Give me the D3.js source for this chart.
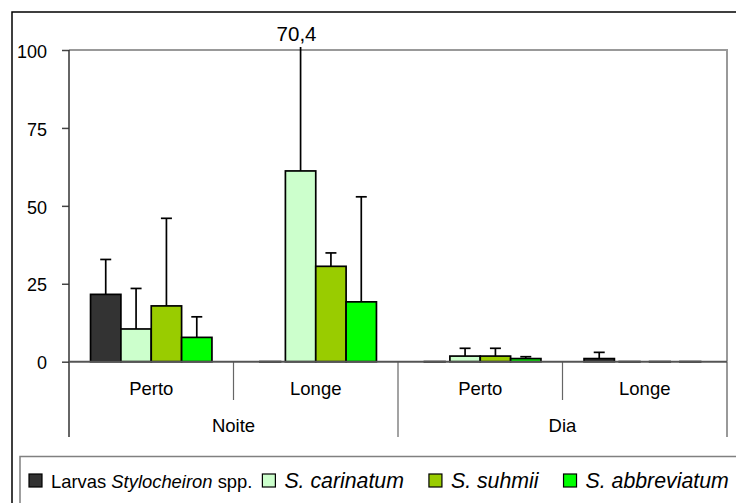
<!DOCTYPE html>
<html>
<head>
<meta charset="utf-8">
<script src="https://cdn.jsdelivr.net/npm/d3@7"></script>
<style>
  body { margin: 0; background: #fff; }
  svg text { font-family: "Liberation Sans", Arial, sans-serif; fill: #000; }
</style>
</head>
<body>
<svg id="chart" width="736" height="503"></svg>
<script>
// data
var periods = ["Noite", "Dia"];
var distances = ["Perto", "Longe"];
var seriesNames = ["Larvas", "S. carinatum", "S. suhmii", "S. abbreviatum"];
var seriesColors = ["#333333", "#ccffcc", "#99cc00", "#00ff00"];
// one value per group: Noite-Perto, Noite-Longe, Dia-Perto, Dia-Longe
var larvasMean = [21.6, 0, 0, 1.0];
var carinatumMean = [10.5, 61.2, 1.8, 0];
var suhmiiMean = [17.9, 30.6, 1.8, 0];
var abbreviatumMean = [7.8, 19.2, 1.0, 0];
var larvasSd = [11.2, 0, 0, 2.0];
var carinatumSd = [13.0, 70.4, 2.5, 0];
var suhmiiSd = [28.1, 4.3, 2.5, 0];
var abbreviatumSd = [6.6, 33.7, 0.6, 0];
var yTicks = [0, 25, 50, 75, 100];

var means = [larvasMean, carinatumMean, suhmiiMean, abbreviatumMean];
var sds = [larvasSd, carinatumSd, suhmiiSd, abbreviatumSd];

var groups = [];
periods.forEach(function(p){
	distances.forEach(function(d){
		groups.push({period: p, dist: d, key: p + "-" + d});
	});
});

var bars = [];
groups.forEach(function(g, gi){
	seriesNames.forEach(function(s, si){
		bars.push({group: g.key, series: s, color: seriesColors[si], value: means[si][gi], sd: sds[si][gi]});
	});
});

var svg = d3.select("#chart");
var plotLeft = 69, plotRight = 727, plotTop = 50, base = 361.7;

var y = d3.scaleLinear().domain([0, 100]).range([base, plotTop]);
var x0 = d3.scaleBand().domain(groups.map(function(g){ return g.key; })).range([plotLeft, plotRight]);
var x1 = d3.scaleBand().domain(seriesNames).range([0, x0.bandwidth()]).paddingInner(0).paddingOuter(0.71);
var xp = d3.scaleBand().domain(periods).range([plotLeft, plotRight]);

// outer frame (cut off on right/bottom like the original)
svg.append("rect")
  .attr("x", 12).attr("y", 12).attr("width", 760).attr("height", 520)
  .style("fill", "none").style("stroke", "#000").style("stroke-width", 1.5);

// plot area border (top and right)
svg.append("path")
  .attr("d", "M" + plotLeft + "," + plotTop + "H" + plotRight + "V" + base)
  .style("fill", "none").style("stroke", "#999").style("stroke-width", 2);

// y axis
var yAxis = svg.append("g").attr("transform", "translate(" + plotLeft + ",0)")
  .call(d3.axisLeft(y).tickValues(yTicks).tickSize(7).tickPadding(15));
yAxis.select(".domain").remove();
yAxis.selectAll(".tick line").style("stroke", "#444").style("stroke-width", 1.5);
yAxis.selectAll(".tick text").style("font-size", "18px").attr("dy", "0.4em");
svg.append("line")
  .attr("x1", plotLeft).attr("x2", plotLeft).attr("y1", plotTop).attr("y2", 437)
  .style("stroke", "#333").style("stroke-width", 1.5);

// category dividers: short ones between distances, long ones between periods
x0.domain().forEach(function(k, i){
	if (i % 2 == 0) {
		var xx = x0(k) + x0.bandwidth();
		svg.append("line").attr("x1", xx).attr("x2", xx).attr("y1", base).attr("y2", 400)
		  .style("stroke", "#666").style("stroke-width", 1.2);
	}
});
[plotLeft + xp.bandwidth(), plotRight].forEach(function(xx){
	svg.append("line").attr("x1", xx).attr("x2", xx).attr("y1", base).attr("y2", 437)
	  .style("stroke", xx == plotRight ? "#999" : "#666").style("stroke-width", xx == plotRight ? 2 : 1.2);
});

// bars
var barG = svg.append("g");
barG.selectAll("rect").data(bars).enter().append("rect")
  .attr("x", function(d){ return x0(d.group) + x1(d.series); })
  .attr("width", x1.bandwidth())
  .attr("y", function(d){ return y(d.value); })
  .attr("height", function(d){ return base - y(d.value); })
  .style("fill", function(d){ return d.color; })
  .style("stroke", "#000").style("stroke-width", 1.7);

// zero line
svg.append("line").attr("x1", plotLeft).attr("x2", plotRight).attr("y1", base).attr("y2", base)
  .style("stroke", "#555").style("stroke-width", 2);
// zero-height bars show as short dark dashes on the baseline
barG.selectAll(".zero").data(bars.filter(function(d){ return d.value == 0; })).enter().append("line")
  .attr("x1", function(d){ return x0(d.group) + x1(d.series) + 4; })
  .attr("x2", function(d){ return x0(d.group) + x1(d.series) + x1.bandwidth() - 4; })
  .attr("y1", base).attr("y2", base)
  .style("stroke", "#000").style("stroke-width", 2);

// error bars (upper only, clipped at plot top)
var errs = bars.filter(function(d){ return d.sd > 0; });
var errG = barG.selectAll(".err").data(errs).enter().append("g").attr("class", "err");
errG.append("line")
  .attr("x1", function(d){ return x0(d.group) + x1(d.series) + x1.bandwidth() / 2; })
  .attr("x2", function(d){ return x0(d.group) + x1(d.series) + x1.bandwidth() / 2; })
  .attr("y1", function(d){ return y(d.value); })
  .attr("y2", function(d){ return Math.max(y(d.value + d.sd), plotTop - 3); })
  .style("stroke", "#000").style("stroke-width", 1.7);
errG.filter(function(d){ return d.value + d.sd <= 100; }).append("line")
  .attr("x1", function(d){ return x0(d.group) + x1(d.series) + x1.bandwidth() / 2 - 5.5; })
  .attr("x2", function(d){ return x0(d.group) + x1(d.series) + x1.bandwidth() / 2 + 5.5; })
  .attr("y1", function(d){ return y(d.value + d.sd); })
  .attr("y2", function(d){ return y(d.value + d.sd); })
  .style("stroke", "#000").style("stroke-width", 1.7);
// label for clipped error bar
errG.filter(function(d){ return d.value + d.sd > 100; }).append("text")
  .attr("x", function(d){ return x0(d.group) + x1(d.series) + x1.bandwidth() / 2 - 4; })
  .attr("y", 41)
  .attr("text-anchor", "middle")
  .style("font-size", "20.5px")
  .text(function(d){ return String(d.sd).replace(".", ","); });

// category labels
svg.selectAll(".distlab").data(groups).enter().append("text")
  .attr("class", "distlab")
  .attr("x", function(d){ return x0(d.key) + x0.bandwidth() / 2; })
  .attr("y", 395)
  .attr("text-anchor", "middle").style("font-size", "18.5px")
  .text(function(d){ return d.dist; });
svg.selectAll(".perlab").data(periods).enter().append("text")
  .attr("class", "perlab")
  .attr("x", function(d){ return xp(d) + xp.bandwidth() / 2; })
  .attr("y", 431.7)
  .attr("text-anchor", "middle").style("font-size", "18.5px")
  .text(function(d){ return d; });

// legend
svg.append("rect")
  .attr("x", 20).attr("y", 456.5).attr("width", 760).attr("height", 80)
  .style("fill", "#fff").style("stroke", "#808080").style("stroke-width", 1.5);

var lx = 29;
seriesNames.forEach(function(s, i){
	svg.append("rect").attr("x", lx).attr("y", 474).attr("width", 13).attr("height", 13)
	  .style("fill", seriesColors[i]).style("stroke", "#000").style("stroke-width", 1.2);
	var t = svg.append("text").attr("x", lx + 22).attr("y", 487.5);
	if (i == 0) {
		t.style("font-size", "18.4px");
		t.append("tspan").text("Larvas ");
		t.append("tspan").style("font-style", "italic").text("Stylocheiron");
		t.append("tspan").text(" spp.");
	} else {
		t.style("font-size", "21.3px").style("font-style", "italic").text(s);
	}
	var w = t.node().getComputedTextLength();
	lx = lx + 22 + w + (i == 0 ? 10 : 25);
});
</script>
</body>
</html>
